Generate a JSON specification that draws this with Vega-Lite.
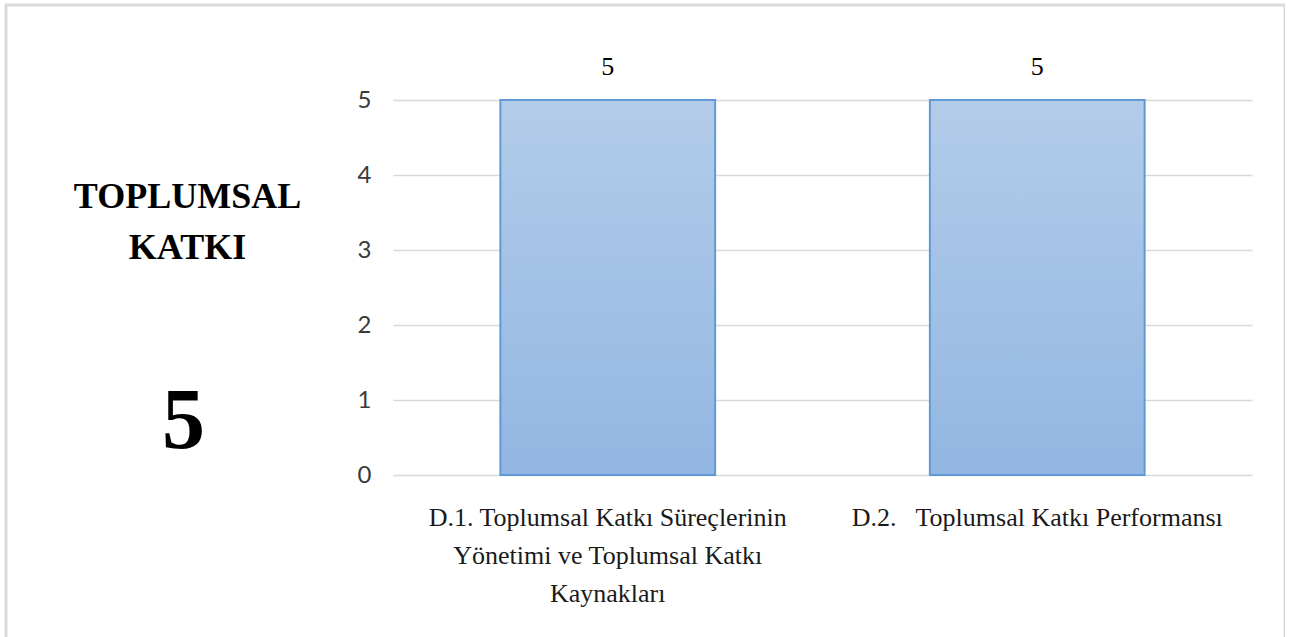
{
  "$schema": "https://vega.github.io/schema/vega-lite/v6.json",
  "autosize": "none",
  "width": 1279,
  "height": 640,
  "padding": {"left": 6, "top": 5, "right": 0, "bottom": 0},
  "background": "white",
  "config": {
    "view": {"stroke": "#d9d9d9", "strokeWidth": 3}
  },
  "data": {
    "values": [
      {"kriter": "D.1. Toplumsal Katkı Süreçlerinin Yönetimi ve Toplumsal Katkı Kaynakları", "puan": 5},
      {"kriter": "D.2. Toplumsal Katkı Performansı", "puan": 5}
    ]
  },
  "encoding": {
    "x": {
      "field": "kriter",
      "type": "nominal",
      "sort": null,
      "scale": {"range": [387, 1246], "paddingInner": 0.5, "paddingOuter": 0.25},
      "axis": {
        "orient": "bottom",
        "offset": -170,
        "domain": false,
        "ticks": false,
        "grid": false,
        "labelAngle": 0,
        "labelFont": "Liberation Serif",
        "labelFontSize": 26,
        "labelColor": "#1a1a1a",
        "labelLineHeight": 38,
        "labelPadding": 29,
        "labelLimit": 1000,
        "labelOverlap": false,
        "labelExpr": "datum.value == 'D.1. Toplumsal Katkı Süreçlerinin Yönetimi ve Toplumsal Katkı Kaynakları' ? ['D.1. Toplumsal Katkı Süreçlerinin', 'Yönetimi ve Toplumsal Katkı', 'Kaynakları'] : 'D.2.\u00a0\u00a0 Toplumsal Katkı Performansı'",
        "title": "5",
        "titleFont": "Liberation Serif",
        "titleFontSize": 86,
        "titleFontWeight": "bold",
        "titleColor": "#000000",
        "titleAlign": "center",
        "titleBaseline": "alphabetic",
        "titleAngle": 0,
        "titleX": 177,
        "titleY": -28
      }
    },
    "y": {
      "field": "puan",
      "type": "quantitative",
      "scale": {"domain": [0, 5], "range": [470, 95], "nice": false, "zero": true},
      "axis": {
        "orient": "left",
        "offset": -387,
        "values": [0, 1, 2, 3, 4, 5],
        "domain": false,
        "ticks": false,
        "grid": true,
        "gridColor": "#d9d9d9",
        "gridWidth": 1.5,
        "labelFont": "Lato",
        "labelFontSize": 24,
        "labelColor": "#3a3a3a",
        "labelPadding": 22,
        "title": ["TOPLUMSAL", "KATKI"],
        "titleFont": "Liberation Serif",
        "titleFontSize": 36,
        "titleFontWeight": "bold",
        "titleColor": "#000000",
        "titleAngle": 0,
        "titleAlign": "center",
        "titleBaseline": "alphabetic",
        "titleLineHeight": 51,
        "titleX": -206,
        "titleY": 202
      }
    }
  },
  "layer": [
    {
      "mark": {
        "type": "bar",
        "stroke": "#5f9ad6",
        "strokeWidth": 2,
        "color": {
          "gradient": "linear",
          "x1": 0, "y1": 0, "x2": 0, "y2": 1,
          "stops": [
            {"offset": 0, "color": "#b3cce9"},
            {"offset": 1, "color": "#92b6e2"}
          ]
        }
      }
    },
    {
      "mark": {
        "type": "text",
        "dy": -25,
        "baseline": "alphabetic",
        "font": "Liberation Serif",
        "fontSize": 26,
        "color": "#000000"
      },
      "encoding": {
        "text": {"field": "puan", "type": "quantitative"}
      }
    }
  ]
}
